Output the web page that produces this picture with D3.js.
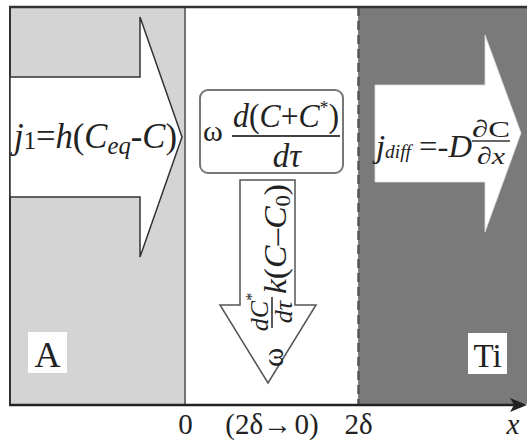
<!DOCTYPE html>
<html><head><meta charset="utf-8">
<script src="https://cdn.jsdelivr.net/npm/d3@7"></script>
<style>body{margin:0;background:#fff}svg{display:block}</style>
</head><body><svg id="c" width="527" height="441"></svg>
<script>
// ---- data ----
const boundaryValues = [0, 2];                 // interface positions in units of δ
const tickValues = [0, 1, 2];
const tickLabels = ["0", "(2δ\u2192\u200A0)", "2δ"];
const axisLabel = "x";
const regionNames = ["A", "", "Ti"];
const regionExtents = [[-2.03, 0], [0, 2], [2, 3.96]];

// ---- layout ----
const svg = d3.select("#c");
const serif = "'Liberation Serif','Times New Roman',serif";
const x = d3.scaleLinear().domain([0, 2]).range([185, 358]);
const y = d3.scaleLinear().domain([0, 1]).range([404, 7]);
const fills = ["#d4d4d4", "#ffffff", "#7a7a7a"];

// regions
svg.selectAll("rect.region").data(regionExtents).join("rect")
  .attr("class", "region")
  .attr("x", d => x(d[0])).attr("width", d => x(d[1]) - x(d[0]))
  .attr("y", y(1)).attr("height", y(0) - y(1))
  .attr("fill", (d, i) => fills[i]);

// interface lines
svg.append("line").attr("x1", x(boundaryValues[0])).attr("x2", x(boundaryValues[0]))
  .attr("y1", y(1)).attr("y2", y(0)).attr("stroke", "#555").attr("stroke-width", 1.6);
svg.append("line").attr("x1", x(boundaryValues[1]) + 0.5).attr("x2", x(boundaryValues[1]) + 0.5)
  .attr("y1", y(1)).attr("y2", y(0)).attr("stroke", "#555").attr("stroke-width", 2.5)
  .attr("stroke-dasharray", "9,5");

// borders
svg.append("line").attr("x1", 9).attr("x2", 527).attr("y1", 7).attr("y2", 7)
  .attr("stroke", "#333").attr("stroke-width", 2.5);
svg.append("line").attr("x1", 10).attr("x2", 10).attr("y1", 6).attr("y2", 405)
  .attr("stroke", "#333").attr("stroke-width", 2);

// arrows
const line = d3.line();
svg.append("path").attr("d", line([[10,77],[140,77],[140,17],[182,137],[140,257],[140,197],[10,197]]) + "Z")
  .attr("fill", "#fff").attr("stroke", "#333").attr("stroke-width", 1.5);
svg.append("path").attr("d", line([[375,85],[485,85],[485,35],[521,133],[485,232],[485,182],[375,182]]) + "Z")
  .attr("fill", "#fff").attr("stroke", "#ddd").attr("stroke-width", 0.8);
svg.append("path").attr("d", line([[240,180],[295,180],[295,305],[316,305],[268,383],[220,305],[240,305]]) + "Z")
  .attr("fill", "#fff").attr("stroke", "#555").attr("stroke-width", 1.5);

// middle box
svg.append("rect").attr("x", 200).attr("y", 90).attr("width", 143).attr("height", 83).attr("rx", 8)
  .attr("fill", "#fff").attr("stroke", "#777").attr("stroke-width", 2);

function txt(parent, xx, yy, size, anchor) {
  return parent.append("text").attr("x", xx).attr("y", yy).attr("font-size", size)
    .attr("font-family", serif).attr("fill", "#222").attr("text-anchor", anchor || "start");
}
function ts(t, s, opts) {
  const sp = t.append("tspan").text(s);
  if (opts) for (const k in opts) sp.attr(k, opts[k]);
  return sp;
}

// left formula j1 = h(Ceq - C)
{
  const t = txt(svg, 14, 148, 35).attr("textLength", 163).attr("lengthAdjust", "spacingAndGlyphs");
  ts(t, "j", {"font-style": "italic"});
  ts(t, "1", {"font-size": 25, dy: 1});
  ts(t, "=", {dy: -1});
  ts(t, "h", {"font-style": "italic"});
  ts(t, "(");
  ts(t, "C", {"font-style": "italic"});
  ts(t, "eq", {"font-style": "italic", "font-size": 25, dy: 6});
  ts(t, "-", {dy: -6});
  ts(t, "C", {"font-style": "italic"});
  ts(t, ")");
}

// middle formula ω d(C+C*)/dτ
txt(svg, 203, 141, 30).text("ω");
{
  const t = txt(svg, 286, 127, 33, "middle").attr("textLength", 106).attr("lengthAdjust", "spacingAndGlyphs");
  ts(t, "d", {"font-style": "italic"});
  ts(t, "(");
  ts(t, "C", {"font-style": "italic"});
  ts(t, "+");
  ts(t, "C", {"font-style": "italic"});
  ts(t, "*", {"font-size": 18, dy: -13});
  ts(t, ")", {dy: 13});
}
svg.append("line").attr("x1", 232).attr("x2", 340).attr("y1", 136).attr("y2", 136)
  .attr("stroke", "#444").attr("stroke-width", 2);
{
  const t = txt(svg, 287, 167, 33, "middle");
  ts(t, "dτ", {"font-style": "italic"});
}

// right formula j_diff = -D ∂C/∂x
{
  const t = txt(svg, 376, 157, 32).attr("textLength", 96).attr("lengthAdjust", "spacingAndGlyphs");
  ts(t, "j", {"font-style": "italic"});
  ts(t, "diff", {"font-style": "italic", "font-size": 19, dy: 1});
  ts(t, " =-", {dy: -1});
  ts(t, "D", {"font-style": "italic"});
}
txt(svg, 491, 137, 24, "middle").text("∂C").attr("textLength", 38).attr("lengthAdjust", "spacingAndGlyphs");
svg.append("line").attr("x1", 472).attr("x2", 510).attr("y1", 141).attr("y2", 141)
  .attr("stroke", "#333").attr("stroke-width", 1.6);
{
  const t = txt(svg, 491, 164, 24, "middle").attr("textLength", 28).attr("lengthAdjust", "spacingAndGlyphs");
  ts(t, "∂");
  ts(t, "x", {"font-style": "italic"});
}

// rotated formula in down arrow: ω dC*/dτ k(C−C0)
{
  const g = svg.append("g").attr("transform", "rotate(-90)");
  txt(g, -367, 283, 29).text("ω");
  const n = txt(g, -312, 268, 26, "middle");
  ts(n, "dC", {"font-style": "italic"});
  ts(n, "*", {"font-size": 16, dy: -11});
  const d = txt(g, -312, 292, 26, "middle");
  ts(d, "dτ", {"font-style": "italic"});
  const k = txt(g, -294, 286, 31).attr("textLength", 110).attr("lengthAdjust", "spacingAndGlyphs");
  ts(k, "k", {"font-style": "italic"});
  ts(k, "(");
  ts(k, "C", {"font-style": "italic"});
  ts(k, "\u2013");
  ts(k, "C", {"font-style": "italic"});
  ts(k, "0", {"font-size": 21, dy: 4});
  ts(k, ")", {dy: -4});
}
svg.append("line").attr("x1", 272).attr("x2", 272).attr("y1", 297).attr("y2", 328)
  .attr("stroke", "#333").attr("stroke-width", 1.6);

// region labels
const labelBoxes = [[28, 332], null, [468, 333]];
regionNames.forEach((name, i) => {
  if (!name) return;
  const b = labelBoxes[i];
  svg.append("rect").attr("x", b[0]).attr("y", b[1]).attr("width", 39).attr("height", 41).attr("fill", "#fff");
  txt(svg, b[0] + 19.5, 367, name === "A" ? 36 : 33, "middle").text(name);
});

// x axis
const axis = d3.axisBottom(x).tickValues(tickValues).tickSize(0).tickPadding(0)
  .tickFormat((d, i) => tickLabels[i]);
const ag = svg.append("g").attr("transform", "translate(0,405)").call(axis);
ag.select(".domain").remove();
ag.selectAll("text").attr("font-family", serif).attr("font-size", 29).attr("fill", "#222")
  .attr("dy", null).attr("y", 29);
svg.append("line").attr("x1", 9).attr("x2", 518).attr("y1", 405).attr("y2", 405)
  .attr("stroke", "#222").attr("stroke-width", 2.5);
svg.append("path").attr("d", line([[510,398],[527,405],[510,412],[514,405]]) + "Z").attr("fill", "#222");
txt(svg, 513, 434, 29, "middle").attr("font-style", "italic").text(axisLabel);
</script></body></html>
